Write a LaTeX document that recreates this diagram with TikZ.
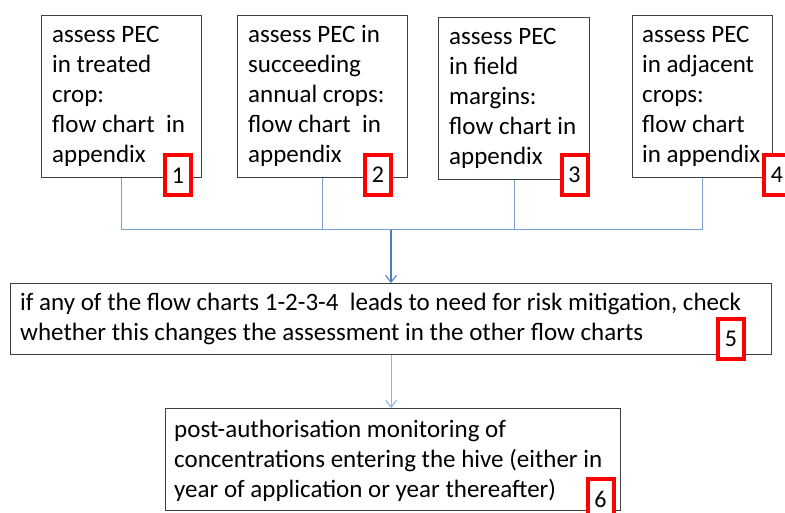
\documentclass[tikz,border=0pt]{standalone}
\usepackage{fontspec}
\setmainfont{Carlito}
\usetikzlibrary{arrows.meta}
\definecolor{boxline}{HTML}{404040}
\definecolor{busblue}{HTML}{7BA0CD}
\definecolor{mainblue}{HTML}{4A7EBB}
\definecolor{lightblue}{HTML}{8EB4E3}
\begin{document}
\begin{tikzpicture}[x=1pt,y=-1pt,
  stepbox/.style={draw=boxline,line width=1.2pt,fill=white,rectangle,inner sep=0pt},
  txt/.style={anchor=north west,inner sep=0pt,align=left,font=\fontsize{25}{30}\selectfont},
  numbox/.style={draw=red,line width=4pt,fill=white,rectangle,inner sep=0pt,minimum width=26pt,minimum height=40pt,font=\fontsize{24}{30}\selectfont},
  bus/.style={draw=busblue,line width=1pt},
  arr/.style={draw=mainblue,line width=1.5pt,-{Straight Barb[length=7pt,width=11pt,line width=1pt]}},
  arrlight/.style={draw=lightblue,line width=1pt,-{Straight Barb[length=7pt,width=11pt,line width=1pt]}}
]
\useasboundingbox (0,0) rectangle (785,513);
\fill[white] (0,0) rectangle (785,513);

% top boxes
\node[stepbox,minimum width=160pt,minimum height=162pt,anchor=north west] (b1) at (41,15) {};
\node[stepbox,minimum width=170pt,minimum height=162pt,anchor=north west] (b2) at (237,15) {};
\node[stepbox,minimum width=151pt,minimum height=162pt,anchor=north west] (b3) at (438,17) {};
\node[stepbox,minimum width=140pt,minimum height=162pt,anchor=north west] (b4) at (632,15) {};
\node[stepbox,minimum width=761pt,minimum height=71pt,anchor=north west] (b5) at (10,283) {};
\node[stepbox,minimum width=455pt,minimum height=102pt,anchor=north west] (b6) at (165,408) {};

% texts
\node[txt] (t1) at (52,21) {\strut assess PEC\\in treated\\crop:\\flow chart~~in\\appendix};
\node[txt] (t2) at (248,21) {\strut assess PEC in\\succeeding\\annual crops:\\flow chart~~in\\appendix};
\node[txt] (t3) at (449,23) {\strut assess PEC\\in field\\margins:\\flow chart in\\appendix};
\node[txt] (t4) at (642,21) {\strut assess PEC\\in adjacent\\crops:\\flow chart\\in appendix};
\node[txt] (t5) at (20,289) {\strut if any of the flow charts 1-2-3-4~~leads to need for risk mitigation, check\\whether this changes the assessment in the other flow charts};
\node[txt] (t6) at (174,416) {\strut post-authorisation monitoring of\\concentrations entering the hive (either in\\year of application or year thereafter)};

% connectors
\coordinate (j) at (391,230);
\draw[bus] (b1.south) |- (j);
\draw[bus] (b2.south) |- (j);
\draw[bus] (b3.south) |- (j);
\draw[bus] (b4.south) |- (j);
\draw[arr] (j) -- (j |- b5.north);
\draw[arrlight] (b5.south) -- (b5.south |- b6.north);

% number boxes
\node[numbox] (r1) at (178,175.5) {1};
\node[numbox] (r2) at (378,175) {2};
\node[numbox] (r3) at (574.5,175) {3};
\node[numbox] (r4) at (777,175) {4};
\node[numbox] (r5) at (731,339) {5};
\node[numbox] (r6) at (600.5,499) {6};
\end{tikzpicture}
\end{document}
